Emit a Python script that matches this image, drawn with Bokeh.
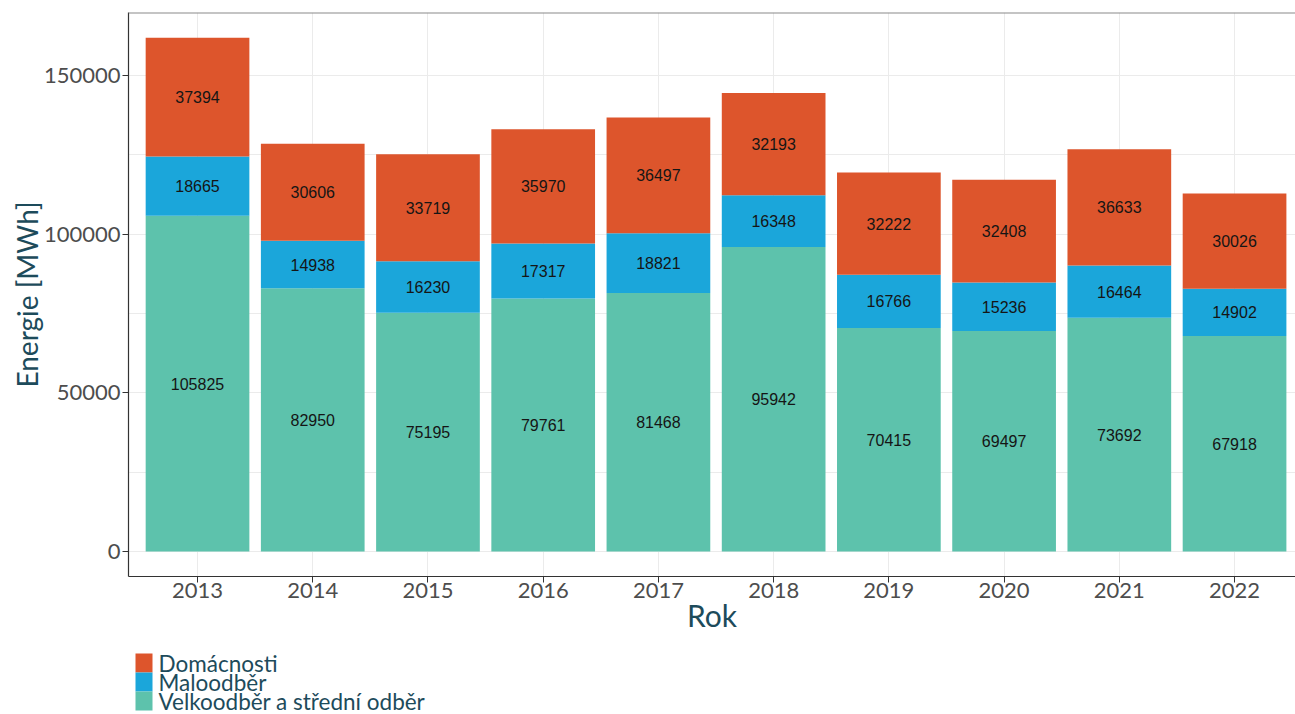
from bokeh.plotting import figure
from bokeh.layouts import column
from bokeh.models import (ColumnDataSource, Range1d, FixedTicker, NumeralTickFormatter, Span)
from bokeh.core.properties import value
from bokeh.embed import file_html
from bokeh.resources import INLINE

# ---- data ----
years = [2013, 2014, 2015, 2016, 2017, 2018, 2019, 2020, 2021, 2022]
velkoodber = [105825, 82950, 75195, 79761, 81468, 95942, 70415, 69497, 73692, 67918]
maloodber = [18665, 14938, 16230, 17317, 18821, 16348, 16766, 15236, 16464, 14902]
domacnosti = [37394, 30606, 33719, 35970, 36497, 32193, 32222, 32408, 36633, 30026]
series_keys = ["velk", "malo", "dom"]
series_names = ["Velkoodběr a střední odběr", "Maloodběr", "Domácnosti"]
series_colors = ["#5DC2AC", "#1BA6DA", "#DD552C"]
y_ticks = [0, 50000, 100000, 150000]
y_minor = [25000, 75000, 125000]
Y_MIN, Y_MAX = -7880, 169850
X_MIN, X_MAX = 2012.401, 2022.529

TEXT_COL = "#1d4b5b"
FONT = "Lato"
LEFT, FRAME_W = 128, 1167

src = ColumnDataSource(dict(year=years, velk=velkoodber, malo=maloodber, dom=domacnosti))

p = figure(frame_width=FRAME_W, frame_height=564, output_backend="svg", toolbar_location=None,
           x_range=Range1d(X_MIN, X_MAX), y_range=Range1d(Y_MIN, Y_MAX),
           min_border_left=LEFT, min_border_right=0, min_border_top=12, min_border_bottom=74,
           background_fill_color="white", border_fill_color="white")
p.outline_line_color = None

rends = p.vbar_stack(series_keys, x="year", width=0.9, source=src,
                     color=series_colors, line_color=None)

# segment labels at the middle of each segment
lx, ly, lt = [], [], []
for i, yr in enumerate(years):
    base = 0
    for vals in (velkoodber, maloodber, domacnosti):
        v = vals[i]
        lx.append(yr)
        ly.append(base + v / 2)
        lt.append(str(v))
        base += v
lab_src = ColumnDataSource(dict(x=lx, y=ly, t=lt))
p.text(x="x", y="y", text="t", source=lab_src, text_align="center", text_baseline="middle",
       text_font=value("Liberation Sans"), text_font_size="16px", text_color="#151515")

# axes
p.xaxis.ticker = FixedTicker(ticks=years)
p.xaxis.major_label_overrides = {y: str(y) for y in years}
p.yaxis.ticker = FixedTicker(ticks=y_ticks, minor_ticks=y_minor)
p.yaxis.formatter = NumeralTickFormatter(format="0")
for ax in (p.xaxis[0], p.yaxis[0]):
    ax.axis_line_color = "#333333"
    ax.axis_line_width = 1.2
    ax.major_tick_line_color = "#333333"
    ax.major_tick_out = 6
    ax.major_tick_in = 0
    ax.minor_tick_line_color = None
    ax.major_label_text_font = FONT
    ax.major_label_text_font_size = "22px"
    ax.major_label_text_color = "#4d4d4d"
    ax.axis_label_text_font = FONT
    ax.axis_label_text_font_style = "normal"
    ax.axis_label_text_color = TEXT_COL
p.xaxis.axis_label = "Rok"
p.yaxis.axis_label = "Energie [MWh]"
p.xaxis.axis_label_text_font_size = "30px"
p.yaxis.axis_label_text_font_size = "28px"
p.xaxis.major_label_standoff = 0
p.xaxis.axis_label_standoff = -4
p.yaxis.major_label_standoff = 2
p.yaxis.axis_label_standoff = -3

# top border of the panel
p.add_layout(Span(location=Y_MAX, dimension="width", line_color="#8a8a8a", line_width=2))

p.xgrid.grid_line_color = "#ebebeb"
p.ygrid.grid_line_color = "#ebebeb"
p.ygrid.minor_grid_line_color = "#ebebeb"

# ---- legend strip below the chart (page-pixel coordinates) ----
ROW = 19
LEG_H = 64
leg = figure(frame_width=FRAME_W, frame_height=LEG_H, output_backend="svg", toolbar_location=None,
             x_range=Range1d(LEFT, LEFT + FRAME_W), y_range=Range1d(LEG_H, 0),
             min_border_left=LEFT, min_border_right=0, min_border_top=0, min_border_bottom=0)
leg.axis.visible = False
leg.grid.visible = False
leg.outline_line_color = None
order = [2, 1, 0]
leg_src = ColumnDataSource(dict(
    name=[series_names[i] for i in order],
    color=[series_colors[i] for i in order],
    top=[3 + k * ROW for k in range(len(order))],
    bottom=[3 + (k + 1) * ROW for k in range(len(order))],
    mid=[3 + (k + 0.5) * ROW for k in range(len(order))],
))
leg.quad(left=135, right=152, top="top", bottom="bottom", color="color",
         line_color=None, source=leg_src)
leg.text(x=158, y="mid", text="name", source=leg_src, text_align="left",
         text_baseline="middle", text_font=value(FONT), text_font_size="22.5px",
         text_color=TEXT_COL)

layout = column(p, leg, spacing=0)
open("out.html", "w").write(file_html(layout, INLINE))
